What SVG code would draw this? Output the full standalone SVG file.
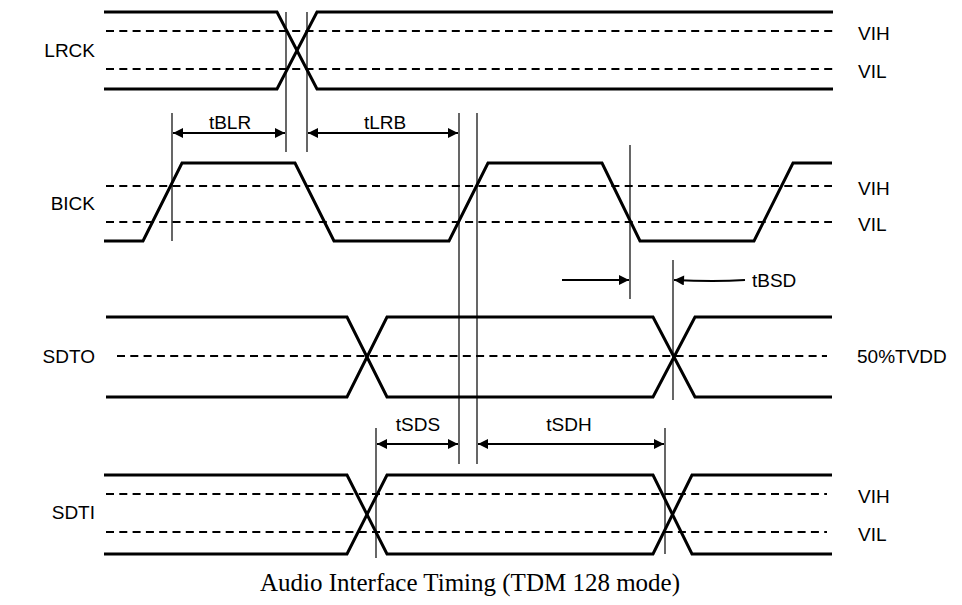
<svg xmlns="http://www.w3.org/2000/svg" width="962" height="605" viewBox="0 0 962 605">
<defs>
<style>
.sig{fill:none;stroke:#000;stroke-width:3;stroke-linejoin:miter}
.ref{fill:none;stroke:#000;stroke-width:2.2;stroke-dasharray:8,5.3}
.thin{fill:none;stroke:#000;stroke-width:1.2}
.dim{fill:none;stroke:#000;stroke-width:2.2}
.lbl{font-family:"Liberation Sans",Arial,sans-serif;font-size:19px;fill:#000}
.cap{font-family:"Liberation Serif","Times New Roman",serif;font-size:25px;fill:#000}
</style>
<marker id="ah" viewBox="0 0 10 10" refX="10" refY="5" markerWidth="14" markerHeight="10" markerUnits="userSpaceOnUse" orient="auto-start-reverse">
<path d="M0,0 L10,5 L0,10 z" fill="#000"/>
</marker>
</defs>
<rect width="962" height="605" fill="#fff"/>

<g id="LRCK">
<path class="sig" d="M104,12 H277 L317,89 H833"/>
<path class="sig" d="M104,89 H277 L317,12 H833"/>
<line class="ref" x1="106" y1="31" x2="833" y2="31"/>
<line class="ref" x1="106" y1="69" x2="833" y2="69"/>
<text class="lbl" x="95" y="57" text-anchor="end">LRCK</text>
<text class="lbl" x="858" y="40">VIH</text>
<text class="lbl" x="858" y="78">VIL</text>
</g>

<g id="BICK">
<path class="sig" d="M104,241 H143 L182,163 H295 L334,241 H449 L488,163 H602 L640,241 H754 L793,163 H832"/>
<line class="ref" x1="106" y1="186" x2="832" y2="186"/>
<line class="ref" x1="106" y1="222" x2="832" y2="222"/>
<text class="lbl" x="95" y="210" text-anchor="end">BICK</text>
<text class="lbl" x="858" y="195">VIH</text>
<text class="lbl" x="858" y="231">VIL</text>
</g>

<g id="SDTO">
<path class="sig" d="M106,317 H347 L387,397 H653 L695,317 H832"/>
<path class="sig" d="M106,397 H347 L387,317 H653 L695,397 H832"/>
<line class="ref" x1="117" y1="356" x2="827" y2="356"/>
<text class="lbl" x="95" y="363" text-anchor="end">SDTO</text>
<text class="lbl" x="857" y="363">50%TVDD</text>
</g>

<g id="SDTI">
<path class="sig" d="M104,475 H347 L387,554 H653 L692,475 H832"/>
<path class="sig" d="M104,554 H347 L387,475 H653 L692,554 H832"/>
<line class="ref" x1="106" y1="494" x2="827" y2="494"/>
<line class="ref" x1="106" y1="532" x2="827" y2="532"/>
<text class="lbl" x="95" y="519" text-anchor="end">SDTI</text>
<text class="lbl" x="858" y="503">VIH</text>
<text class="lbl" x="858" y="541">VIL</text>
</g>

<g id="connectors">
<line class="thin" x1="286" y1="12" x2="286" y2="152"/>
<line class="thin" x1="307" y1="12" x2="307" y2="152"/>
<line class="thin" x1="172" y1="113" x2="172" y2="241"/>
<line class="thin" x1="459" y1="113" x2="459" y2="464"/>
<line class="thin" x1="477" y1="113" x2="477" y2="464"/>
<line class="thin" x1="630" y1="145" x2="630" y2="299"/>
<line class="thin" x1="673" y1="260" x2="673" y2="400"/>
<line class="thin" x1="376" y1="428" x2="376" y2="558"/>
<line class="thin" x1="665" y1="428" x2="665" y2="554"/>
<line class="dim" x1="173" y1="133" x2="285" y2="133" marker-start="url(#ah)" marker-end="url(#ah)"/>
<line class="dim" x1="308" y1="133" x2="458" y2="133" marker-start="url(#ah)" marker-end="url(#ah)"/>
<line class="dim" x1="562" y1="280" x2="629" y2="280" marker-end="url(#ah)"/>
<path class="dim" d="M745,280 Q715,282 674,280" marker-end="url(#ah)"/>
<line class="dim" x1="377" y1="444" x2="458" y2="444" marker-start="url(#ah)" marker-end="url(#ah)"/>
<line class="dim" x1="478" y1="444" x2="664" y2="444" marker-start="url(#ah)" marker-end="url(#ah)"/>
<text class="lbl" x="230" y="129" text-anchor="middle">tBLR</text>
<text class="lbl" x="385" y="129" text-anchor="middle">tLRB</text>
<text class="lbl" x="752" y="287">tBSD</text>
<text class="lbl" x="418" y="431" text-anchor="middle">tSDS</text>
<text class="lbl" x="569" y="431" text-anchor="middle">tSDH</text>
</g>

<text class="cap" x="470" y="591" text-anchor="middle">Audio Interface Timing (TDM 128 mode)</text>
</svg>
